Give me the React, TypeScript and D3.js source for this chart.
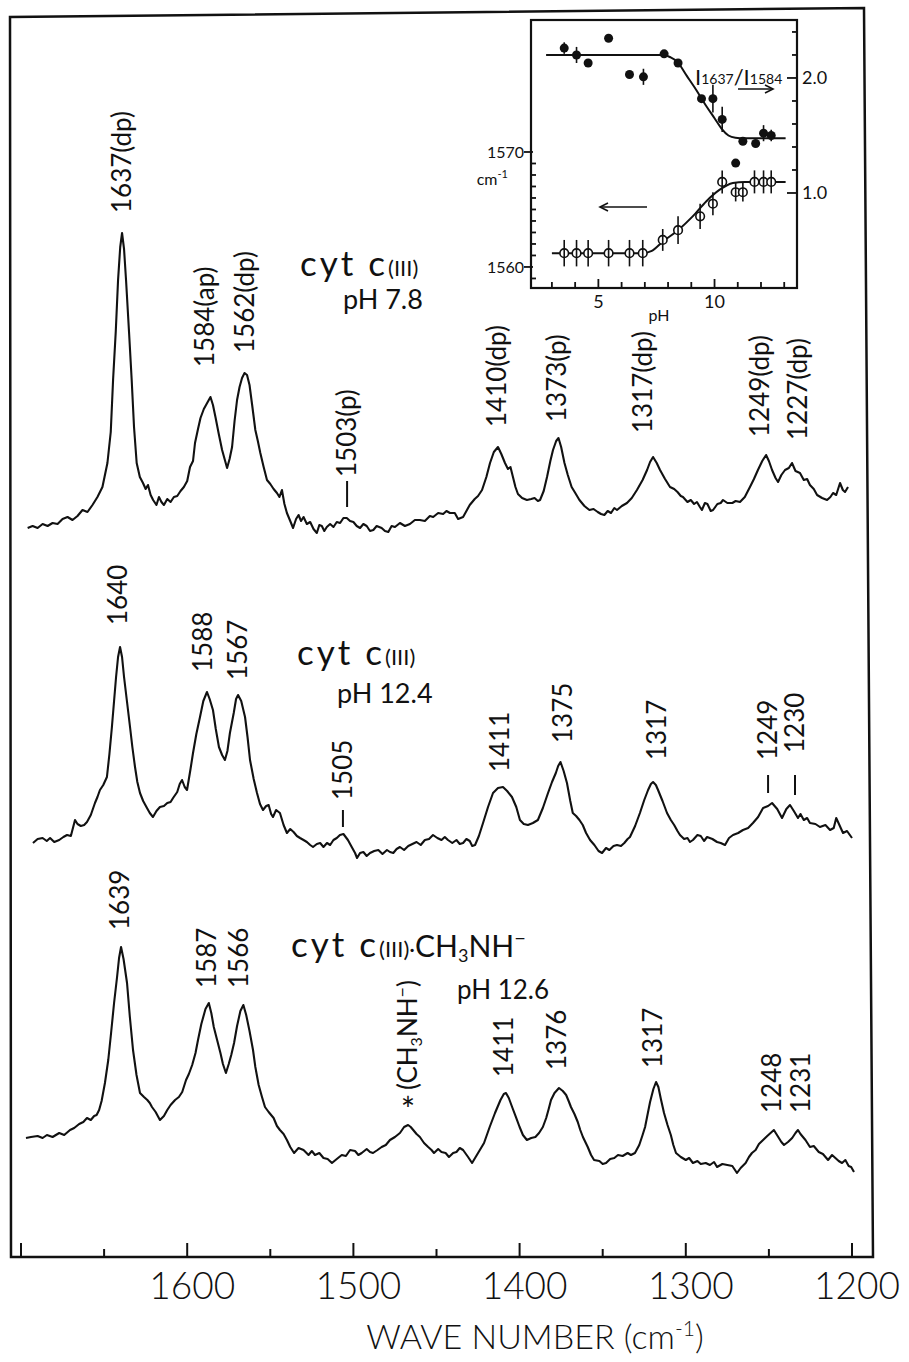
import React from "react";
import * as d3 from "d3";

// ---------- main axis ----------
const X_TICKS = [1700, 1650, 1600, 1550, 1500, 1450, 1400, 1350, 1300, 1250, 1200];
const X_LABELS = [1600, 1500, 1400, 1300, 1200];
const OFFSETS = [70, 38, 8]; // baseline offsets of the three traces (intensity units)

// ---------- spectra: [wavenumber, relative intensity] ----------
const SPEC_TOP: [number, number][] = [
  [1696,2.9],[1693,3.1],[1690,2.9],[1687,3.3],[1684,3.1],[1681,3.4],[1678,3.3],[1675,3.8],[1672,4.0],[1669,3.7],
  [1666,4.1],[1663,4.7],[1660,4.5],[1657,5.2],[1654,6.0],[1651,7.0],[1648,9.4],[1646,12.5],[1644.6,17.7],[1643,22.5],
  [1641.6,27.7],[1640.3,31.0],[1639.2,32.4],[1638,30.8],[1636.8,27.7],[1635,22.5],[1633.4,17.7],[1632,13.0],[1630.4,9.4],
  [1628.5,8.0],[1626.6,7.4],[1625,6.8],[1623.6,7.2],[1622,6.2],[1620.5,5.7],[1618.5,5.2],[1617,6.0],[1615.5,5.5],[1614,5.2],
  [1612,5.8],[1610,5.5],[1608,6.0],[1606,6.1],[1604,6.6],[1602,7.0],[1600,7.6],[1598.3,9.0],[1596.5,9.6],[1595.3,11.4],
  [1593.5,12.8],[1592,13.9],[1590,14.8],[1588,15.4],[1586,16.0],[1584.5,15.2],[1583,14.0],[1581,12.3],[1579,10.7],
  [1577.5,9.8],[1576,8.9],[1574.5,9.8],[1573,11.0],[1571.5,13.6],[1570,15.7],[1568.5,17.0],[1567,17.9],[1565.5,18.4],
  [1564,18.2],[1562.5,17.2],[1561,15.3],[1559,12.7],[1557.5,11.6],[1556,10.4],[1554,9.0],[1552,7.7],[1550,7.3],[1548,6.8],
  [1546,6.4],[1544.5,6.0],[1543,6.7],[1541.5,5.3],[1540,4.4],[1538,3.6],[1536.3,2.9],[1534.5,3.8],[1533,4.2],[1531.5,3.6],
  [1530,4.0],[1528,3.3],[1526,3.5],[1524,2.8],[1522,2.4],[1520.5,3.2],[1519,3.1],[1517.5,2.6],[1516,3.0],[1514,3.3],
  [1512,3.0],[1510,3.5],[1508,3.4],[1506,3.9],[1504,3.9],[1502,3.6],[1500,3.5],[1498,3.1],[1496,2.9],[1494,3.3],
  [1492,3.1],[1490,2.6],[1488,2.7],[1486,3.1],[1483,2.9],[1481,2.6],[1479,2.5],[1477,3.1],[1475,3.0],[1472,3.4],
  [1469,3.1],[1466,3.3],[1463,3.7],[1460,3.7],[1457,3.6],[1454,4.1],[1452,4.0],[1449,4.4],[1446,4.3],[1444,4.6],
  [1441.9,4.4],[1439,4.4],[1437,3.8],[1434,4.0],[1432,4.6],[1430,5.2],[1427,5.8],[1425,6.1],[1422.6,6.7],[1420,8.0],
  [1417.8,9.4],[1415.5,10.5],[1413,11.0],[1411,10.3],[1408.8,9.4],[1407,8.8],[1405.5,9.0],[1404,8.0],[1402.5,7.0],
  [1401,6.3],[1398.5,5.9],[1395.6,5.7],[1393,5.8],[1391,5.9],[1389,5.6],[1387.7,5.7],[1385.5,6.6],[1383.5,8.0],
  [1381.5,9.6],[1379.9,10.7],[1378,11.6],[1376.6,11.9],[1375,11.0],[1373,9.4],[1371,8.2],[1368.7,7.0],[1366.5,6.4],
  [1364,5.7],[1361,5.1],[1358,4.7],[1355.5,4.8],[1353,4.5],[1351,4.3],[1349,4.2],[1347,4.6],[1345,4.4],[1343,4.9],
  [1341.4,4.7],[1338.5,5.1],[1335.4,5.4],[1332.5,5.9],[1329.4,6.7],[1326,7.7],[1323.3,8.7],[1321.5,9.5],[1319.7,10.0],
  [1317.5,9.4],[1315.5,8.7],[1312.5,7.8],[1309.5,7.0],[1307,6.8],[1305,6.5],[1303,6.1],[1301.7,6.0],[1299,5.5],
  [1297,5.7],[1295,5.3],[1293.3,5.5],[1291.5,5.0],[1290.3,4.7],[1288.5,5.4],[1287,5.3],[1285,4.6],[1283.6,4.7],
  [1281,5.3],[1279,5.4],[1277.6,5.7],[1275,5.4],[1272,5.4],[1270,5.6],[1267.4,5.5],[1264.5,6.0],[1261.4,7.0],
  [1259,7.8],[1256.6,8.7],[1254,9.6],[1251.7,10.2],[1250,9.6],[1248.1,8.7],[1246,7.9],[1244.5,7.5],[1242.5,8.2],
  [1240.3,8.7],[1238,8.9],[1236.1,9.4],[1234,8.6],[1231.3,8.4],[1229,7.7],[1227,7.8],[1225.3,7.2],[1223,6.8],
  [1221,6.2],[1218,5.9],[1215,5.7],[1213,6.0],[1211.4,6.4],[1209.5,6.2],[1207.2,7.4],[1205.5,6.7],[1204.2,6.5],[1202.4,7.0],
];

const SPEC_MID: [number, number][] = [
  [1692.8,3.4],[1690,3.8],[1687,3.9],[1684.5,3.6],[1682.5,3.9],[1680,3.5],[1677,3.7],[1674.5,4.0],[1672.3,4.2],[1670,4.1],
  [1667.5,5.7],[1666,5.3],[1664,5.1],[1662,5.2],[1660.3,5.5],[1658,6.2],[1655.5,7.4],[1654,8.0],[1652.5,8.7],[1650.5,9.2],
  [1648.3,10.0],[1646.8,12.3],[1645.3,15.0],[1644,17.6],[1642.8,20.0],[1641.6,22.0],[1640.4,23.0],[1639.2,22.0],[1638,20.0],
  [1636.2,17.5],[1634.4,15.0],[1633,13.0],[1631.4,11.0],[1630,9.5],[1628.4,8.4],[1626.5,7.6],[1624.2,6.9],[1622.5,6.4],
  [1620.6,6.0],[1618.5,6.6],[1616.4,7.0],[1614,7.1],[1612,7.4],[1610,7.5],[1608.5,7.9],[1606,8.5],[1604.5,9.3],[1603.1,9.7],
  [1601.5,9.0],[1600.1,8.7],[1598,10.8],[1596.5,12.4],[1594.5,14.3],[1592.3,16.0],[1590.3,17.6],[1588.1,18.5],[1586.5,17.8],
  [1584.5,16.7],[1582.8,14.8],[1580.9,13.0],[1579,12.2],[1577.3,11.7],[1575.8,12.6],[1574.3,14.4],[1572,16.4],[1570.6,17.8],
  [1569.4,18.2],[1567.5,17.6],[1565.2,16.0],[1563.7,14.0],[1562.2,11.7],[1560,9.8],[1558,8.4],[1556.2,7.3],[1554.4,6.7],
  [1552.5,7.1],[1551,7.2],[1549.5,6.3],[1548.4,6.0],[1546.5,6.7],[1544.2,6.4],[1542,5.2],[1540,4.4],[1538,4.8],[1536,4.5],
  [1534,4.1],[1532.1,3.9],[1530,3.7],[1528,3.5],[1526,3.2],[1524.3,3.0],[1522,3.3],[1520,3.4],[1518,3.0],[1515.9,3.4],
  [1514,3.2],[1512,3.7],[1510,3.9],[1508.1,4.2],[1506,4.3],[1503.3,3.7],[1501,3.0],[1499,2.4],[1497.8,1.9],[1496,2.4],
  [1494,2.5],[1492,2.1],[1490,2.4],[1487.5,2.6],[1485,2.7],[1482.5,2.3],[1479.8,2.7],[1478,2.5],[1476,2.4],[1474,2.8],
  [1472,3.0],[1469.5,2.7],[1467,3.1],[1464.5,3.3],[1462,3.5],[1459.5,3.2],[1457,3.7],[1454.5,3.8],[1452.1,4.2],[1449.5,3.9],
  [1447,3.7],[1445,4.0],[1443.1,3.7],[1440.5,3.4],[1438,3.7],[1436,3.3],[1434,3.4],[1432,3.8],[1430,3.6],[1428.5,3.1],
  [1426.8,3.2],[1424.5,4.1],[1422,5.4],[1419,7.0],[1416,8.4],[1413,8.9],[1410,9.0],[1407.5,8.6],[1404.6,8.0],[1402,7.0],
  [1399.8,5.7],[1397.5,5.3],[1395,5.2],[1392,5.4],[1389,5.7],[1386,6.9],[1382.9,8.4],[1380.5,9.5],[1378.2,10.4],[1376.8,11.1],
  [1375.4,11.5],[1373.5,10.6],[1371.5,9.4],[1369.5,7.6],[1368,6.4],[1366,6.1],[1364,5.7],[1362,5.2],[1360,4.4],[1357.6,3.7],
  [1355,3.2],[1352.5,2.6],[1350.4,2.4],[1348,2.9],[1346,2.7],[1343.5,3.1],[1341.4,3.2],[1339,3.1],[1337,3.4],[1335,3.8],
  [1333.6,4.0],[1330.5,5.1],[1327.6,6.4],[1325,7.7],[1322.7,8.7],[1321,9.3],[1319.7,9.5],[1318,9.2],[1316.7,8.7],[1314,7.6],
  [1311.3,6.4],[1309,5.7],[1307,5.2],[1305,4.6],[1303.5,4.2],[1301,3.8],[1299,3.9],[1297.5,3.5],[1295.7,3.7],[1293,4.2],
  [1291,4.1],[1289,3.6],[1287.2,4.0],[1284,3.8],[1281.2,3.5],[1279,3.4],[1276.4,3.2],[1274,3.9],[1271.6,4.2],[1268.5,4.4],
  [1265.6,4.7],[1262.5,4.9],[1259.6,5.4],[1256.5,6.0],[1253.5,6.9],[1250.5,7.1],[1248.1,7.4],[1245,6.8],[1242.1,5.9],
  [1239.5,6.8],[1237.3,7.2],[1235,6.6],[1232.5,5.9],[1231,6.3],[1229,5.7],[1227,5.9],[1225.3,5.4],[1222,5.3],[1219.3,5.0],
  [1216,5.2],[1213.2,4.7],[1211,4.9],[1209.5,5.9],[1208.4,5.5],[1206.5,4.8],[1205.4,4.4],[1203,4.6],[1200,3.9],
];

const SPEC_BOT: [number, number][] = [
  [1697,3.9],[1694,4.0],[1690,4.1],[1687,3.9],[1684.4,4.2],[1681,4.0],[1677,4.4],[1674,4.2],[1670.5,4.7],[1668,4.9],
  [1665,5.3],[1662.5,5.5],[1660.3,5.9],[1658,5.7],[1656,6.1],[1654.5,6.2],[1653,6.7],[1651.5,7.6],[1649.5,9.4],[1647.5,11.7],
  [1645.8,14.4],[1644,17.4],[1642.2,20.0],[1641,21.9],[1639.8,23.0],[1638.3,21.8],[1636.2,19.4],[1634.5,16.0],[1632.6,12.7],
  [1630.5,10.2],[1628.4,8.4],[1626,8.0],[1624,7.7],[1622.5,7.4],[1621.2,7.0],[1619,6.5],[1616.4,5.7],[1614,6.1],[1612,6.7],
  [1610,7.2],[1607.3,7.7],[1605,8.0],[1603,8.5],[1600.7,9.7],[1599,10.3],[1597,11.2],[1595,12.4],[1593.5,13.7],[1591.5,15.3],
  [1589,16.8],[1587,17.4],[1585.5,16.4],[1584,15.0],[1582,13.7],[1580,12.4],[1578.5,11.3],[1576.7,10.4],[1575,11.3],
  [1573.5,12.2],[1571.8,13.4],[1570,15.1],[1568,16.6],[1566.2,17.2],[1564.5,16.2],[1562.5,14.6],[1560.4,12.7],[1559,11.0],
  [1557,9.2],[1555,8.0],[1553.2,7.0],[1551,6.5],[1548,5.9],[1546,5.1],[1544.2,4.7],[1542,4.3],[1540,3.7],[1538,3.0],
  [1535.7,2.4],[1533,2.9],[1530,2.7],[1527,2.2],[1525,2.6],[1523.1,2.2],[1520.5,2.4],[1518,1.9],[1515.5,1.8],[1512.9,1.4],
  [1510,1.8],[1507,2.2],[1504.5,2.1],[1502,2.7],[1499,2.6],[1497,2.2],[1495,2.4],[1492,2.8],[1490,2.5],[1488.2,2.4],
  [1485.5,2.7],[1483,3.0],[1480.5,3.2],[1478,3.7],[1475,4.0],[1472,4.4],[1469.5,5.0],[1467.1,5.2],[1465.5,5.0],[1464,4.7],
  [1462,4.3],[1460,4.0],[1457.5,3.4],[1455,3.0],[1453,2.7],[1451.5,2.4],[1449,2.8],[1447,2.5],[1444.5,2.4],[1442.5,2.0],
  [1440,2.4],[1438,2.5],[1436,2.9],[1434,2.7],[1431,2.0],[1428.6,1.4],[1425,2.4],[1421.4,3.4],[1418,5.0],[1414.8,6.4],
  [1411.5,7.7],[1409.5,8.3],[1408.2,8.4],[1406.5,7.9],[1404.5,7.0],[1402.2,6.0],[1400,5.0],[1398,4.2],[1395.6,3.7],[1393,3.9],
  [1390.5,4.0],[1388.3,4.4],[1386,5.0],[1384,5.9],[1382.5,6.8],[1381.1,7.7],[1379,8.4],[1376.3,8.9],[1374,8.6],[1372,8.2],
  [1370.5,7.6],[1369.1,7.0],[1367,6.3],[1365,5.5],[1363.5,4.7],[1361.9,4.0],[1359,3.0],[1357,2.2],[1355.2,1.7],[1352,1.6],
  [1350,1.3],[1348,1.4],[1345.5,1.8],[1343,1.9],[1340.8,2.2],[1338,2.1],[1335,2.4],[1333,2.2],[1330.6,2.4],[1328,3.2],
  [1326,4.2],[1324.5,5.0],[1323.3,6.0],[1321.5,7.5],[1319.5,8.8],[1317.9,9.5],[1316.5,9.0],[1315,7.8],[1313.1,6.4],[1311,5.2],
  [1309,4.2],[1307.5,3.2],[1305.9,2.4],[1303,2.0],[1300,1.7],[1298,1.9],[1295.7,1.4],[1293,1.6],[1291,1.3],[1288,1.4],
  [1285.5,1.2],[1283,1.5],[1281.2,1.0],[1278,1.3],[1275,1.2],[1272,1.1],[1269.2,0.4],[1267,0.9],[1264,1.4],[1262,2.0],
  [1260.2,2.4],[1258,2.7],[1256,3.3],[1253.5,3.7],[1251,4.1],[1249,4.4],[1247,4.7],[1245.5,4.3],[1244,3.9],[1242.5,3.5],
  [1240.9,3.2],[1238.5,3.5],[1236,3.9],[1234,4.4],[1232.5,4.7],[1231,4.3],[1229.5,4.0],[1228,3.7],[1225.3,3.0],[1223,3.1],
  [1220,2.5],[1217.5,2.3],[1214.4,1.7],[1212,2.2],[1210,1.9],[1208,1.6],[1206,1.4],[1204,1.7],[1202,1.1],[1200.5,1.0],[1198.8,0.5],
];

// ---------- peak labels (wavenumber, base of rotated text, text, optional dash) ----------
type PeakLabel = { w: number; base: number; text: string; dash?: number; dashLen?: number };
const LABELS_TOP: PeakLabel[] = [
  { w: 1639.2, base: 34.4, text: "1637(dp)" },
  { w: 1589.3, base: 19.0, text: "1584(ap)" },
  { w: 1565.2, base: 20.4, text: "1562(dp)" },
  { w: 1503.8, base: 8.0, text: "1503(p)", dash: 5.0, dashLen: 26 },
  { w: 1413.6, base: 13.0, text: "1410(dp)" },
  { w: 1377.5, base: 13.5, text: "1373(p)" },
  { w: 1325.8, base: 12.4, text: "1317(dp)" },
  { w: 1255.4, base: 12.0, text: "1249(dp)" },
  { w: 1232.5, base: 11.7, text: "1227(dp)" },
];
const LABELS_MID: PeakLabel[] = [
  { w: 1641.6, base: 25.2, text: "1640" },
  { w: 1590.5, base: 20.5, text: "1588" },
  { w: 1569.4, base: 19.7, text: "1567" },
  { w: 1506.3, base: 7.7, text: "1505", dash: 5.0, dashLen: 17 },
  { w: 1411.8, base: 10.5, text: "1411" },
  { w: 1373.9, base: 13.4, text: "1375" },
  { w: 1317.3, base: 11.7, text: "1317" },
  { w: 1250.5, base: 11.7, text: "1249", dash: 8.4, dashLen: 18 },
  { w: 1234.3, base: 12.4, text: "1230", dash: 8.2, dashLen: 20 },
];
const LABELS_BOT: PeakLabel[] = [
  { w: 1640.4, base: 24.7, text: "1639" },
  { w: 1588.1, base: 18.9, text: "1587" },
  { w: 1568.8, base: 18.9, text: "1566" },
  { w: 1409.4, base: 10.0, text: "1411" },
  { w: 1377.5, base: 10.7, text: "1376" },
  { w: 1319.7, base: 10.9, text: "1317" },
  { w: 1248.1, base: 6.4, text: "1248" },
  { w: 1230.7, base: 6.4, text: "1231" },
];

// ---------- inset data ----------
const RATIO_PH = [3.53, 4.06, 4.56, 5.44, 6.34, 6.94, 7.83, 8.43, 9.44, 9.93, 10.33, 10.91, 11.22, 11.77, 12.11, 12.44];
const RATIO = [2.26, 2.2, 2.13, 2.345, 2.03, 2.01, 2.21, 2.13, 1.82, 1.82, 1.64, 1.26, 1.45, 1.43, 1.52, 1.5];
const RATIO_ERR = [0.05, 0.07, 0, 0, 0, 0.07, 0, 0, 0, 0.12, 0.11, 0, 0, 0, 0.07, 0.05];
const FREQ_PH = [3.53, 4.06, 4.56, 5.44, 6.34, 6.91, 7.77, 8.43, 9.38, 9.93, 10.33, 10.91, 11.22, 11.72, 12.11, 12.44];
const FREQ = [1561.2, 1561.2, 1561.2, 1561.2, 1561.2, 1561.2, 1562.35, 1563.2, 1564.4, 1565.5, 1567.4, 1566.5, 1566.5, 1567.4, 1567.4, 1567.4];
const FREQ_ERR = [1.15, 1.15, 1.15, 1.15, 1.15, 1.15, 0.95, 1.2, 1.1, 1.0, 1.0, 0.8, 0.8, 1.0, 1.0, 1.0];
const RATIO_FIT_PH = [2.75, 7.8, 8.1, 8.4, 8.8, 9.2, 9.6, 10.0, 10.3, 10.6, 10.9, 11.3, 13.06];
const RATIO_FIT = [2.2, 2.2, 2.18, 2.14, 2.02, 1.9, 1.77, 1.65, 1.56, 1.5, 1.48, 1.475, 1.475];
const FREQ_FIT_PH = [3.0, 6.9, 7.3, 7.77, 8.43, 9.06, 9.64, 10.21, 10.79, 11.3, 13.06];
const FREQ_FIT = [1561.2, 1561.2, 1561.4, 1562.2, 1563.2, 1564.4, 1565.7, 1566.7, 1567.3, 1567.4, 1567.4];
const PH_TICKS = [3, 4, 5, 6, 7, 8, 9, 10, 11, 12, 13];
const PH_LABELS = [5, 10];
const FREQ_TICKS = [1559, 1560, 1561, 1562, 1563, 1564, 1565, 1566, 1567, 1568, 1569, 1570];
const FREQ_LABELS = [1560, 1570];
const RATIO_TICKS = [1.0, 1.2, 1.4, 1.6, 1.8, 2.0, 2.2, 2.4];
const RATIO_LABELS = [1.0, 2.0];

const FONT = "Lato, 'Open Sans', 'DejaVu Sans', sans-serif";

export default function App() {
  const W = 909, H = 1362;
  const xS = d3.scaleLinear().domain([1700, 1200]).range([21, 852]);
  const yS = d3.scaleLinear().domain([0, 125]).range([1257, 7]);
  const axisY = yS(0);

  const specPath = (data: [number, number][], off: number) =>
    d3.line<[number, number]>().x((d) => xS(d[0])).y((d) => yS(off + d[1]))(data) || "";

  // inset scales
  const pS = d3.scaleLinear().domain([2.1, 13.55]).range([531, 797]);
  const fS = d3.scaleLinear().domain([1558.17, 1581.48]).range([288, 20]);
  const rS = d3.scaleLinear().domain([0.174, 2.504]).range([288, 20]);
  const iL = 531, iR = 797, iT = 20, iB = 288;

  const ratioFit = d3.line<number>().x((_, i) => pS(RATIO_FIT_PH[i])).y((v) => rS(v)).curve(d3.curveMonotoneX)(RATIO_FIT) || "";
  const freqFit = d3.line<number>().x((_, i) => pS(FREQ_FIT_PH[i])).y((v) => fS(v)).curve(d3.curveMonotoneX)(FREQ_FIT) || "";

  const renderLabels = (labels: PeakLabel[], off: number) =>
    labels.map((l, i) => {
      const x = xS(l.w);
      const y = yS(off + l.base);
      return (
        <g key={i}>
          <text transform={`translate(${x},${y}) rotate(-90)`} dy="0.36em" fontSize={26} fontWeight={400} textAnchor="start">
            {l.text}
          </text>
          {l.dash !== undefined && (
            <line x1={x} x2={x} y1={yS(off + l.dash)} y2={yS(off + l.dash) - (l.dashLen || 20)} stroke="#111" strokeWidth={2} />
          )}
        </g>
      );
    });

  return (
    <svg width={W} height={H} style={{ position: "absolute", left: 0, top: 0, background: "#fff" }} fontFamily={FONT} fontWeight={300} fill="#111">
      <rect x={0} y={0} width={W} height={H} fill="#fff" />
      {/* frame */}
      <path d={`M11,${axisY} L10,17 L864,8 L873,${axisY} Z`} fill="none" stroke="#111" strokeWidth={2.5} />
      {/* x ticks */}
      {X_TICKS.map((t) => (
        <line key={t} x1={xS(t)} x2={xS(t)} y1={axisY} y2={axisY - (t % 100 === 0 ? 14 : 8)} stroke="#111" strokeWidth={2} />
      ))}
      {X_LABELS.map((t) => (
        <text key={t} x={xS(t) + 5} y={1299} fontSize={37} textAnchor="middle">{t}</text>
      ))}
      <text x={535} y={1349} fontSize={34} textAnchor="middle">
        WAVE NUMBER (cm<tspan fontSize={21} dy={-13}>-1</tspan><tspan dy={13}>)</tspan>
      </text>

      {/* spectra */}
      <path d={specPath(SPEC_TOP, OFFSETS[0])} fill="none" stroke="#111" strokeWidth={2.1} strokeLinejoin="round" />
      <path d={specPath(SPEC_MID, OFFSETS[1])} fill="none" stroke="#111" strokeWidth={2.1} strokeLinejoin="round" />
      <path d={specPath(SPEC_BOT, OFFSETS[2])} fill="none" stroke="#111" strokeWidth={2.1} strokeLinejoin="round" />

      {renderLabels(LABELS_TOP, OFFSETS[0])}
      {renderLabels(LABELS_MID, OFFSETS[1])}
      {renderLabels(LABELS_BOT, OFFSETS[2])}

      {/* CH3NH- band label */}
      <text transform={`translate(${xS(1467.1)},${yS(OFFSETS[2] + 8.7)}) rotate(-90)`} dy="0.36em" fontSize={26} fontWeight={400}>
        (CH<tspan fontSize={16} dy={5}>3</tspan><tspan dy={-5}>NH</tspan><tspan fontSize={18} dy={-9}>−</tspan><tspan dy={9}>)</tspan>
      </text>
      <text x={xS(1467.1)} y={yS(OFFSETS[2] + 5.5)} fontSize={34} fontWeight={400} textAnchor="middle">*</text>

      {/* sample labels */}
      <g fontWeight={400}>
        <text x={xS(1532.1)} y={yS(OFFSETS[0] + 28.1)} fontSize={35} letterSpacing={3}>
          cyt c<tspan fontSize={22} letterSpacing={0}>(III)</tspan>
        </text>
        <text x={xS(1506.3)} y={yS(OFFSETS[0] + 24.8)} fontSize={27}>pH 7.8</text>
        <text x={xS(1533.9)} y={yS(OFFSETS[1] + 21.2)} fontSize={35} letterSpacing={3}>
          cyt c<tspan fontSize={22} letterSpacing={0}>(III)</tspan>
        </text>
        <text x={xS(1509.9)} y={yS(OFFSETS[1] + 17.4)} fontSize={27}>pH 12.4</text>
        <text x={xS(1537.5)} y={yS(OFFSETS[2] + 22.0)} fontSize={35} letterSpacing={3}>
          cyt c<tspan fontSize={22} letterSpacing={0}>(III)·</tspan>
          <tspan fontSize={30} letterSpacing={0}>CH</tspan>
          <tspan fontSize={18} letterSpacing={0} dy={5}>3</tspan>
          <tspan fontSize={30} letterSpacing={0} dy={-5}>NH</tspan>
          <tspan fontSize={20} letterSpacing={0} dy={-12}>−</tspan>
        </text>
        <text x={xS(1437.7)} y={yS(OFFSETS[2] + 17.8)} fontSize={26}>pH 12.6</text>
      </g>

      {/* ---------- inset ---------- */}
      <g fontWeight={400}>
        <rect x={iL} y={iT} width={iR - iL} height={iB - iT} fill="#fff" stroke="#111" strokeWidth={2.2} />
        {PH_TICKS.map((t) => (
          <line key={t} x1={pS(t)} x2={pS(t)} y1={iB} y2={iB - (t % 5 === 0 ? 9 : 6)} stroke="#111" strokeWidth={1.8} />
        ))}
        {PH_LABELS.map((t) => (
          <text key={t} x={pS(t)} y={308} fontSize={18} textAnchor="middle">{t}</text>
        ))}
        <text x={659} y={321} fontSize={16} textAnchor="middle">pH</text>
        {FREQ_TICKS.map((t) => {
          const major = t % 10 === 0;
          return <line key={t} x1={major ? iL - 7 : iL} x2={iL + (major ? 2 : 5)} y1={fS(t)} y2={fS(t)} stroke="#111" strokeWidth={1.8} />;
        })}
        {FREQ_LABELS.map((t) => (
          <text key={t} x={iL - 7} y={fS(t) + 6} fontSize={16} textAnchor="end">{t}</text>
        ))}
        <text x={508} y={185} fontSize={16} textAnchor="end">
          cm<tspan fontSize={11} dy={-7}>-1</tspan>
        </text>
        {RATIO_TICKS.map((t, i) => {
          const major = Math.abs(t - 1) < 1e-6 || Math.abs(t - 2) < 1e-6;
          return <line key={i} x1={iR} x2={iR - (major ? 10 : 5)} y1={rS(t)} y2={rS(t)} stroke="#111" strokeWidth={1.8} />;
        })}
        {RATIO_LABELS.map((t) => (
          <text key={t} x={iR + 5} y={rS(t) + 6} fontSize={18} textAnchor="start">{t.toFixed(1)}</text>
        ))}

        <path d={ratioFit} fill="none" stroke="#111" strokeWidth={2} />
        <path d={freqFit} fill="none" stroke="#111" strokeWidth={2} />

        {/* open circles: frequency */}
        {FREQ.map((v, i) => (
          <g key={"f" + i}>
            <circle cx={pS(FREQ_PH[i])} cy={fS(v)} r={4.3} fill="#fff" stroke="#111" strokeWidth={1.6} />
            <line x1={pS(FREQ_PH[i])} x2={pS(FREQ_PH[i])} y1={fS(v - FREQ_ERR[i])} y2={fS(v + FREQ_ERR[i])} stroke="#111" strokeWidth={1.6} />
          </g>
        ))}
        {/* filled circles: intensity ratio */}
        {RATIO.map((v, i) => (
          <g key={"r" + i}>
            {RATIO_ERR[i] > 0 && (
              <line x1={pS(RATIO_PH[i])} x2={pS(RATIO_PH[i])} y1={rS(v - RATIO_ERR[i])} y2={rS(v + RATIO_ERR[i])} stroke="#111" strokeWidth={1.6} />
            )}
            <circle cx={pS(RATIO_PH[i])} cy={rS(v)} r={4.5} fill="#111" />
          </g>
        ))}

        <text x={695} y={85} fontSize={22}>
          I<tspan fontSize={14} dy={-1}>1637</tspan><tspan fontSize={22} dy={1}>/I</tspan><tspan fontSize={14} dy={-1}>1584</tspan>
        </text>
        {/* arrows */}
        <g stroke="#111" strokeWidth={1.6} fill="none">
          <line x1={738} x2={773} y1={89} y2={89} />
          <path d="M765,85 L773,89 L765,93" />
          <line x1={600} x2={647} y1={207} y2={207} />
          <path d="M608,203 L600,207 L608,211" />
        </g>
      </g>
    </svg>
  );
}
